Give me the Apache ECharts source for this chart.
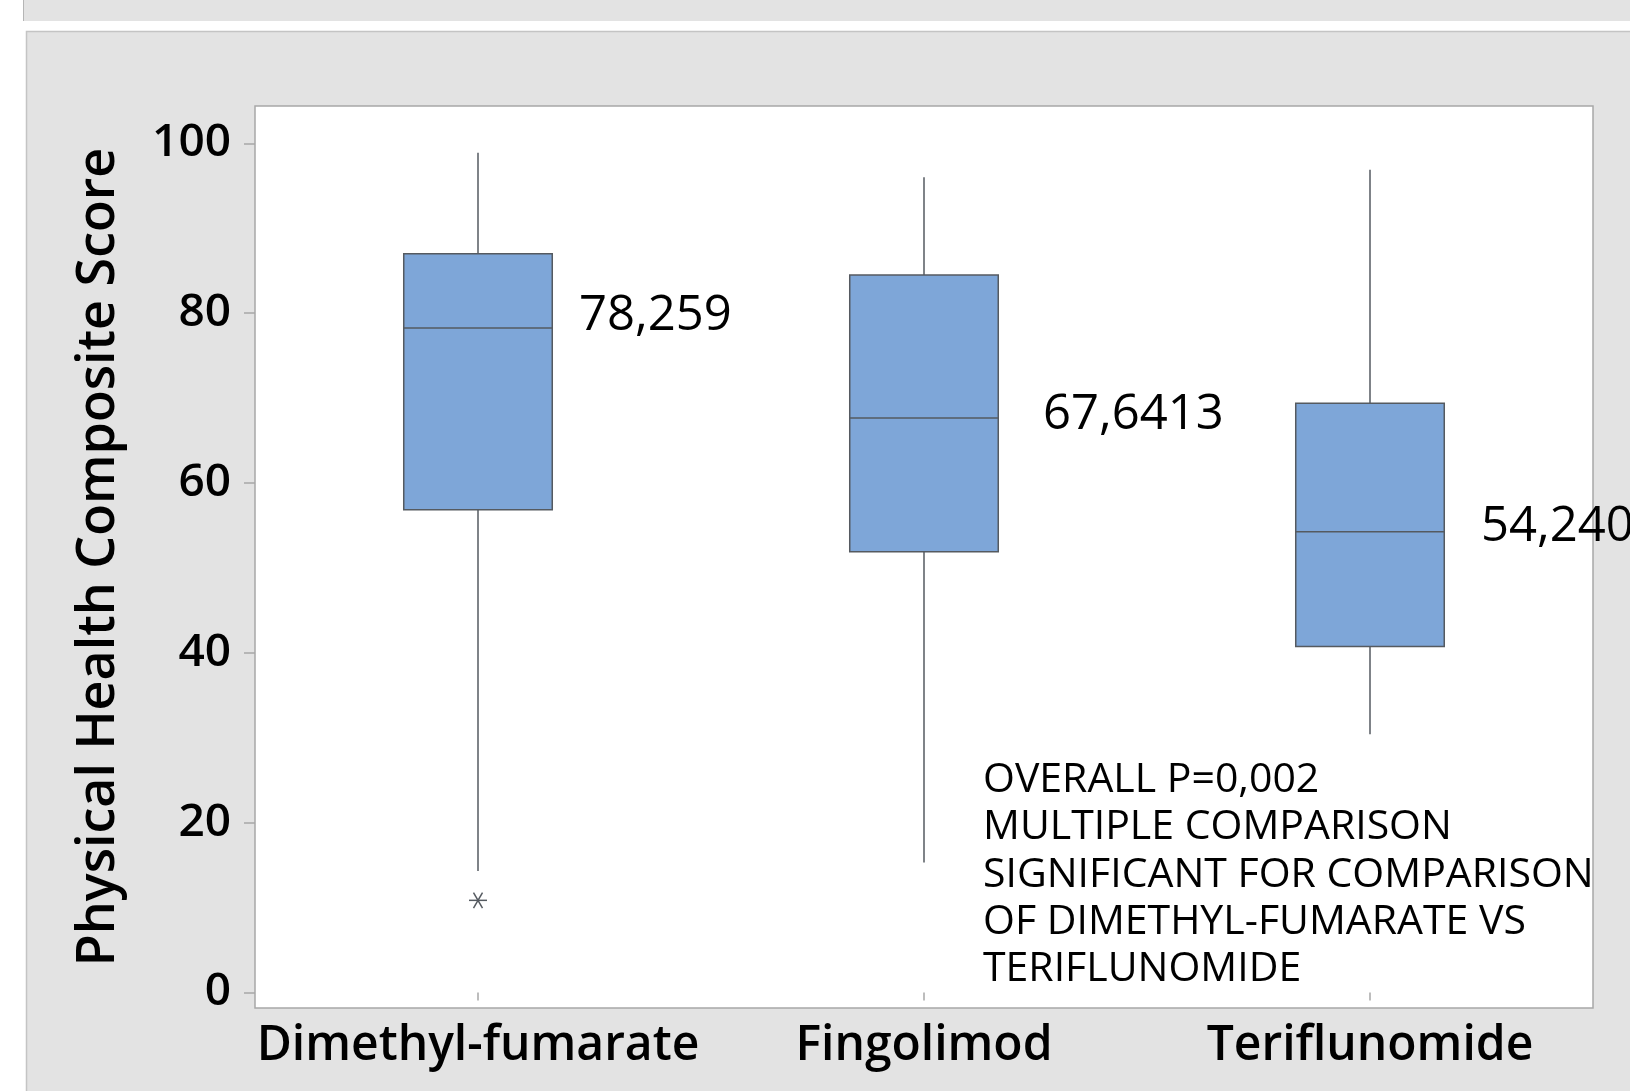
<!DOCTYPE html>
<html><head><meta charset="utf-8">
<script src="https://cdn.jsdelivr.net/npm/echarts@6/dist/echarts.min.js"></script>
<style>html,body{margin:0;padding:0;background:#fff}#chart{width:1630px;height:1091px}</style>
</head><body><div id="chart"></div>
<script>
// ---- data ----
const categories = ['Dimethyl-fumarate', 'Fingolimod', 'Teriflunomide'];
const whiskerLow = [14.3, 15.3, 30.4];
const q1Values = [56.85, 51.9, 40.75];
const medians = [78.259, 67.6413, 54.240];
const q3Values = [87.0, 84.5, 69.4];
const whiskerHigh = [98.9, 96.0, 96.9];
const medianLabels = ['78,259', '67,6413', '54,240'];
const outlierCats = [0];
const outlierValues = [10.84];
const yTicks = [0, 20, 40, 60, 80, 100];
const yTitle = 'Physical Health Composite Score';
const noteLines = ['OVERALL P=0,002', 'MULTIPLE COMPARISON', 'SIGNIFICANT FOR COMPARISON', 'OF DIMETHYL-FUMARATE VS', 'TERIFLUNOMIDE'];

// ---- styles ----
const FONT = '"Open Sans", "Noto Sans", sans-serif';
const labelDx = [101, 119, 111];
const labelDy = [13, 21, 20];
const boxFill = '#7ea6d8';
const edge = '#555a60';

const boxData = categories.map((c, i) => [i, whiskerLow[i], q1Values[i], medians[i], q3Values[i], whiskerHigh[i]]);
const outlierData = outlierCats.map((c, i) => [c, outlierValues[i]]);

const chart = echarts.init(document.getElementById('chart'), null, {renderer: 'canvas'});

function renderBox(params, api) {
  const x = api.value(0);
  const idx = params.dataIndex;
  const pMin = api.coord([x, api.value(1)]);
  const pQ1 = api.coord([x, api.value(2)]);
  const pMed = api.coord([x, api.value(3)]);
  const pQ3 = api.coord([x, api.value(4)]);
  const pMax = api.coord([x, api.value(5)]);
  const bw = api.size([1, 0])[0] * 0.333;
  const cx = pMed[0];
  const ls = {stroke: edge, lineWidth: 1.5};
  return {
    type: 'group',
    children: [
      {type: 'line', shape: {x1: cx, y1: pMax[1], x2: cx, y2: pQ3[1]}, style: ls},
      {type: 'line', shape: {x1: cx, y1: pQ1[1], x2: cx, y2: pMin[1]}, style: ls},
      {type: 'rect', shape: {x: cx - bw / 2, y: pQ3[1], width: bw, height: pQ1[1] - pQ3[1]},
        style: {fill: boxFill, stroke: edge, lineWidth: 1.5}},
      {type: 'line', shape: {x1: cx - bw / 2, y1: pMed[1], x2: cx + bw / 2, y2: pMed[1]}, style: ls},
      {type: 'text', x: cx + labelDx[idx], y: pMed[1] + labelDy[idx], z2: 10,
        style: {text: medianLabels[idx], fill: '#000', font: 'normal 400 49px ' + FONT,
          align: 'left', verticalAlign: 'bottom'}}
    ]
  };
}

function renderStar(params, api) {
  const p = api.coord([api.value(0), api.value(1)]);
  const r = 9;
  const ls = {stroke: edge, lineWidth: 1.5};
  const children = [0, 60, 120].map(a => {
    const rad = a * Math.PI / 180;
    return {type: 'line', shape: {x1: p[0] - r * Math.cos(rad), y1: p[1] - r * Math.sin(rad),
      x2: p[0] + r * Math.cos(rad), y2: p[1] + r * Math.sin(rad)}, style: ls};
  });
  return {type: 'group', children};
}

const option = {
  backgroundColor: '#ffffff',
  animation: false,
  graphic: [
    {type: 'rect', z: -100, shape: {x: 23, y: 0, width: 1607, height: 21},
      style: {fill: '#e3e3e3', stroke: null}},
    {type: 'line', z: -99, shape: {x1: 23.5, y1: 0, x2: 23.5, y2: 21}, style: {stroke: '#b5b5b5', lineWidth: 1}},
    {type: 'rect', z: -100, shape: {x: 26.5, y: 31.5, width: 1610, height: 1070},
      style: {fill: '#e3e3e3', stroke: '#c4c4c4', lineWidth: 1.5}},
    {type: 'text', z: 100, left: 983, top: 757,
      style: {text: noteLines.join('\n'), fill: '#000', font: 'normal 400 41px ' + FONT, lineHeight: 47.2}}
  ],
  grid: {left: 255, top: 106, right: 37, bottom: 83, show: true,
    backgroundColor: '#ffffff', borderColor: '#a8a8a8', borderWidth: 1.5},
  xAxis: {
    type: 'category', data: categories, boundaryGap: true,
    axisLine: {show: false},
    axisTick: {show: true, alignWithLabel: true, length: 8, inside: false, lineStyle: {color: '#a8a8a8', width: 1.5}},
    axisLabel: {color: '#000', fontFamily: FONT, fontWeight: 600, fontSize: 48, margin: 14, interval: 0, hideOverlap: false},
    splitLine: {show: false}
  },
  yAxis: {
    type: 'value', min: -1.84, max: 104.4,
    name: yTitle, nameLocation: 'middle', nameRotate: 90, nameGap: 130,
    nameTextStyle: {color: '#000', fontFamily: FONT, fontWeight: 600, fontSize: 52},
    axisLine: {show: false},
    axisTick: {show: true, length: 11, lineStyle: {color: '#a8a8a8', width: 1.5}, customValues: yTicks},
    axisLabel: {color: '#000', fontFamily: FONT, fontWeight: 600, fontSize: 46, margin: 24, customValues: yTicks},
    splitLine: {show: false}
  },
  series: [
    {type: 'custom', renderItem: renderBox, data: boxData, encode: {x: 0, y: [1, 2, 3, 4, 5]}, clip: false, z: 5},
    {type: 'custom', renderItem: renderStar, data: outlierData, encode: {x: 0, y: 1}, z: 6}
  ]
};
chart.setOption(option);
</script></body></html>
